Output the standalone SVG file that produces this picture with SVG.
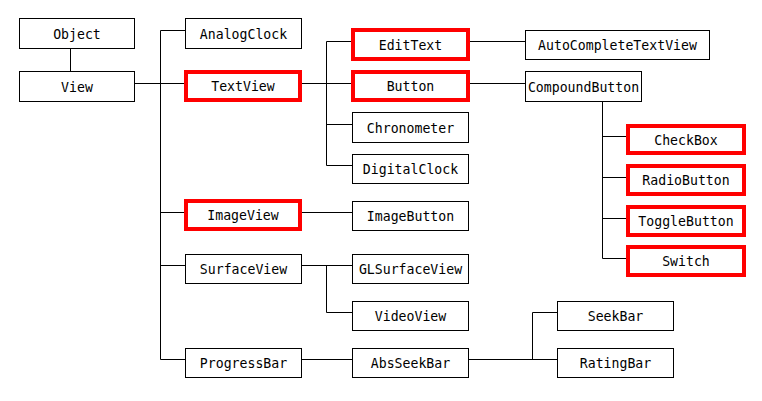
<svg xmlns="http://www.w3.org/2000/svg" width="762" height="401" viewBox="0 0 762 401">
<style>
.b{fill:#fff;stroke:#000;stroke-width:1}
.r{fill:#fff;stroke:#f00;stroke-width:4}
.t{font-family:"DejaVu Sans Mono","Liberation Mono",monospace;font-size:13.2px;fill:#000;text-anchor:middle}
.c{fill:none;stroke:#000;stroke-width:1}
</style>
<rect width="762" height="401" fill="#fff"/>
<g id="connectors" class="c">
<path d="M70.5 48.5V71.5"/>
<path d="M134.5 83.5H185"/>
<path d="M160.5 30.5V359.5"/>
<path d="M160.5 30.5H185.5"/>
<path d="M302 83.5H352"/>
<path d="M326.5 41.5V165.5"/>
<path d="M326.5 41.5H352"/>
<path d="M470 41.5H525.5"/>
<path d="M470 83.5H525.5"/>
<path d="M326.5 124.5H352.5"/>
<path d="M326.5 165.5H352.5"/>
<path d="M160.5 212.5H185"/>
<path d="M302 212.5H352.5"/>
<path d="M160.5 265.5H185.5"/>
<path d="M301.5 265.5H352.5"/>
<path d="M326.5 265.5V312.5H352.5"/>
<path d="M160.5 359.5H185.5"/>
<path d="M301.5 359.5H352.5"/>
<path d="M468.5 359.5H557.5"/>
<path d="M532.5 359.5V312.5H557.5"/>
<path d="M602.5 101.5V258.5"/>
<path d="M602.5 136.5H627"/>
<path d="M602.5 177.5H627"/>
<path d="M602.5 218.5H627"/>
<path d="M602.5 258.5H627"/>
</g>
<g id="Object"><rect class="b" x="19.5" y="18.5" width="115" height="30"/><text class="t" x="77" y="38.5">Object</text></g>
<g id="View"><rect class="b" x="19.5" y="71.5" width="115" height="30"/><text class="t" x="77" y="91.5">View</text></g>
<g id="AnalogClock"><rect class="b" x="185.5" y="18.5" width="116" height="30"/><text class="t" x="243.5" y="38.5">AnalogClock</text></g>
<g id="TextView"><rect class="r" x="186" y="72" width="114" height="28"/><text class="t" x="243" y="91">TextView</text></g>
<g id="EditText"><rect class="r" x="353" y="30" width="115" height="29"/><text class="t" x="410.5" y="49.5">EditText</text></g>
<g id="AutoCompleteTextView"><rect class="b" x="525.5" y="30.5" width="184" height="29"/><text class="t" x="617.5" y="50">AutoCompleteTextView</text></g>
<g id="Button"><rect class="r" x="353" y="72" width="115" height="28"/><text class="t" x="410.5" y="91">Button</text></g>
<g id="CompoundButton"><rect class="b" x="525.5" y="71.5" width="116" height="30"/><text class="t" x="583.5" y="91.5">CompoundButton</text></g>
<g id="Chronometer"><rect class="b" x="352.5" y="112.5" width="116" height="30"/><text class="t" x="410.5" y="132.5">Chronometer</text></g>
<g id="DigitalClock"><rect class="b" x="352.5" y="154.5" width="116" height="29"/><text class="t" x="410.5" y="174">DigitalClock</text></g>
<g id="ImageView"><rect class="r" x="186" y="201" width="114" height="28"/><text class="t" x="243" y="220">ImageView</text></g>
<g id="ImageButton"><rect class="b" x="352.5" y="201.5" width="116" height="29"/><text class="t" x="410.5" y="221">ImageButton</text></g>
<g id="SurfaceView"><rect class="b" x="185.5" y="254.5" width="116" height="29"/><text class="t" x="243.5" y="274">SurfaceView</text></g>
<g id="GLSurfaceView"><rect class="b" x="352.5" y="254.5" width="116" height="29"/><text class="t" x="410.5" y="274">GLSurfaceView</text></g>
<g id="VideoView"><rect class="b" x="352.5" y="301.5" width="116" height="29"/><text class="t" x="410.5" y="321">VideoView</text></g>
<g id="ProgressBar"><rect class="b" x="185.5" y="348.5" width="116" height="29"/><text class="t" x="243.5" y="368">ProgressBar</text></g>
<g id="AbsSeekBar"><rect class="b" x="352.5" y="348.5" width="116" height="29"/><text class="t" x="410.5" y="368">AbsSeekBar</text></g>
<g id="SeekBar"><rect class="b" x="557.5" y="301.5" width="116" height="29"/><text class="t" x="615.5" y="321">SeekBar</text></g>
<g id="RatingBar"><rect class="b" x="557.5" y="348.5" width="116" height="29"/><text class="t" x="615.5" y="368">RatingBar</text></g>
<g id="CheckBox"><rect class="r" x="628" y="126" width="116" height="27"/><text class="t" x="686" y="144.5">CheckBox</text></g>
<g id="RadioButton"><rect class="r" x="628" y="166" width="116" height="28"/><text class="t" x="686" y="185">RadioButton</text></g>
<g id="ToggleButton"><rect class="r" x="628" y="207" width="116" height="28"/><text class="t" x="686" y="226">ToggleButton</text></g>
<g id="Switch"><rect class="r" x="628" y="247" width="116" height="28"/><text class="t" x="686" y="266">Switch</text></g>
</svg>
